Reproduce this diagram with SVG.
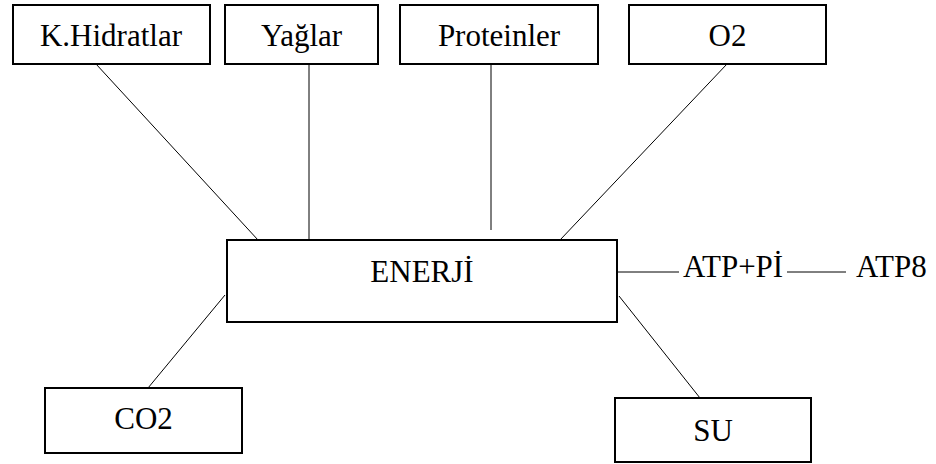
<svg xmlns="http://www.w3.org/2000/svg" width="936" height="464" viewBox="0 0 936 464">
<style>
.box{fill:#fff;stroke:#000;stroke-width:2}
.c line{stroke:#000;stroke-width:1}
</style>
<rect width="936" height="464" fill="#fff"/>
<g class="c" id="connectors">
<line x1="96" y1="64" x2="258" y2="240"/>
<line x1="309" y1="64" x2="309" y2="240"/>
<line x1="491" y1="64" x2="491" y2="230"/>
<line x1="727" y1="64" x2="560" y2="240"/>
<line x1="148" y1="388" x2="225" y2="295"/>
<line x1="619" y1="296" x2="700" y2="398"/>
<line x1="617" y1="272" x2="679" y2="272"/>
<line x1="787" y1="272" x2="846" y2="272"/>
</g>
<g font-family="Liberation Serif" font-size="31" fill="#000">
<g id="khidratlar"><rect class="box" x="13" y="5" width="197" height="59"/><text text-anchor="middle" x="111" y="46">K.Hidratlar</text></g>
<g id="yaglar"><rect class="box" x="225" y="5" width="153" height="59"/><text text-anchor="middle" x="301.5" y="46">Ya&#287;lar</text></g>
<g id="proteinler"><rect class="box" x="400" y="5" width="198" height="59"/><text text-anchor="middle" x="499" y="46">Proteinler</text></g>
<g id="o2"><rect class="box" x="629" y="5" width="197" height="59"/><text text-anchor="middle" x="727.5" y="46">O2</text></g>
<g id="enerji"><rect class="box" x="227" y="240" width="390" height="82"/><text text-anchor="middle" x="422" y="282">ENERJ&#304;</text></g>
<g id="co2"><rect class="box" x="45" y="388" width="197" height="65"/><text text-anchor="middle" x="143.5" y="429">CO2</text></g>
<g id="su"><rect class="box" x="615" y="398" width="196" height="64"/><text text-anchor="middle" x="713" y="441">SU</text></g>
<g id="atppi"><text x="683" y="277">ATP+P&#304;</text></g>
<g id="atp8"><text x="856" y="277">ATP8</text></g>
</g>
</svg>
